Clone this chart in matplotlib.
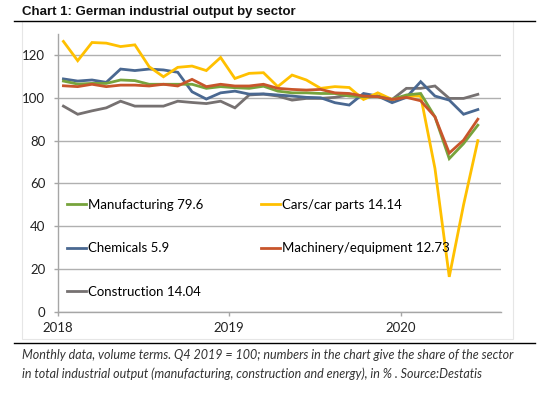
import matplotlib
matplotlib.use("Agg")
import matplotlib.pyplot as plt
from matplotlib.lines import Line2D

months = list(range(30))  # Jan 2018 .. Jun 2020
year_ticks = [0, 12, 24]
year_labels = ["2018", "2019", "2020"]

manufacturing = [107.8, 106.4, 106.7, 106.7, 108.3, 108.0, 106.3, 106.3, 106.3, 106.3,
                 104.4, 105.2, 104.7, 104.4, 105.4, 103.1, 102.3, 102.3, 102.0, 102.0,
                 100.8, 100.5, 100.5, 99.2, 101.3, 102.0, 91.1, 71.6, 78.6, 87.2]
cars = [126.3, 117.3, 125.8, 125.5, 123.9, 124.7, 114.5, 109.8, 114.2, 114.8,
        112.7, 118.8, 109.0, 111.4, 111.7, 105.2, 110.6, 108.3, 104.4, 105.2,
        104.8, 99.2, 102.3, 99.2, 100.8, 100.8, 67.0, 16.4, 50.0, 80.0]
chemicals = [108.8, 107.8, 108.3, 107.2, 113.4, 112.7, 113.4, 113.0, 111.9, 102.8,
             99.4, 102.3, 103.1, 101.7, 101.8, 101.3, 100.8, 100.2, 100.0, 97.7,
             96.6, 102.0, 100.8, 97.7, 100.2, 107.5, 100.8, 98.9, 92.3, 94.5]
machinery = [105.6, 105.2, 106.3, 105.2, 105.9, 105.9, 105.5, 106.3, 105.5, 108.6,
             105.2, 106.3, 105.5, 105.5, 106.3, 104.4, 103.9, 103.6, 103.9, 102.3,
             102.0, 100.8, 100.5, 99.2, 100.2, 98.6, 91.1, 74.2, 80.2, 90.0]
construction = [96.1, 92.3, 93.9, 95.3, 98.4, 96.1, 96.1, 96.1, 98.4, 97.8,
                97.3, 98.4, 95.3, 101.3, 101.7, 100.8, 98.9, 99.7, 99.7, 100.2,
                101.3, 100.2, 100.8, 99.2, 104.4, 104.4, 105.5, 99.7, 99.7, 101.6]

labels = ["Manufacturing 79.6", "Cars/car parts 14.14", "Chemicals 5.9",
          "Machinery/equipment 12.73", "Construction 14.04"]
colors = ["#77a33c", "#ffc000", "#4a6891", "#c8552b", "#767171"]
series = [manufacturing, cars, chemicals, machinery, construction]

W, H = 548, 394
fig = plt.figure(figsize=(W / 100, H / 100), dpi=100)

ax = fig.add_axes([57.7 / W, 1 - 312 / H, (500.7 - 57.7) / W, (312 - 33.5) / H])
x = [m + 0.4 for m in months]
order = [4, 2, 1, 0, 3]
for i in order:
    ax.plot(x, series[i], color=colors[i], lw=2.0, solid_joinstyle="miter", zorder=3 + order.index(i))

ax.set_xlim(0, 31)
ax.set_ylim(0, 130)
ax.set_yticks(range(0, 121, 20))
ax.set_xticks(year_ticks)
ax.set_xticklabels(year_labels)
ax.grid(axis="y", color="#b0b0b0", lw=1.0)
ax.set_axisbelow(True)
for s in ["top", "right"]:
    ax.spines[s].set_visible(False)
for s in ["left", "bottom"]:
    ax.spines[s].set_color("#a6a6a6")
    ax.spines[s].set_linewidth(1.0)
ax.tick_params(axis="both", colors="#a6a6a6", length=3, width=1.0, labelcolor="#222222",
               labelsize=9.5)
ax.tick_params(axis="y", pad=6)
ax.tick_params(axis="x", pad=4)
for lab in ax.get_xticklabels() + ax.get_yticklabels():
    lab.set_fontfamily("Lato")

# legend laid out row-wise like the reference (matplotlib fills columns first)
leg_order = [0, 2, 4, 1, 3]
handles = [Line2D([0], [0], color=colors[i], lw=2.0) for i in leg_order]
leg_labels = [labels[i] for i in leg_order]
leg = ax.legend(handles, leg_labels, loc="upper left", bbox_to_anchor=(-0.005, 0.45), ncol=2,
                frameon=False, prop={"family": "Lato", "size": 9.5}, handlelength=1.4,
                handletextpad=0.15, columnspacing=4.4, labelspacing=2.4)

fig.patches.append(plt.Rectangle((22 / W, 1 - 339 / H), (513 - 22) / W, (339 - 21) / H,
                                 transform=fig.transFigure, fill=False,
                                 edgecolor="#e6e6e6", lw=0.8))
fig.text(22 / W, 1 - 12 / H, "Chart 1: German industrial output by sector", ha="left", va="center",
         fontsize=9.5, fontweight="bold", family="Liberation Sans", color="#111111")
fig.add_artist(Line2D([14 / W, 535 / W], [1 - 21 / H, 1 - 21 / H], color="black", lw=1.0,
                      transform=fig.transFigure))
fig.add_artist(Line2D([14 / W, 535 / W], [1 - 343 / H, 1 - 343 / H], color="black", lw=1.0,
                      transform=fig.transFigure))
fig.text(22 / W, 1 - 355 / H,
         "Monthly data, volume terms. Q4 2019 = 100; numbers in the chart give the share of the sector",
         ha="left", va="center", fontsize=9, style="italic", family="Lato", color="#333333")
fig.text(22 / W, 1 - 374 / H,
         "in total industrial output (manufacturing, construction and energy), in % . Source:Destatis",
         ha="left", va="center", fontsize=9, style="italic", family="Lato", color="#333333")

fig.savefig("out.png", dpi=100)
